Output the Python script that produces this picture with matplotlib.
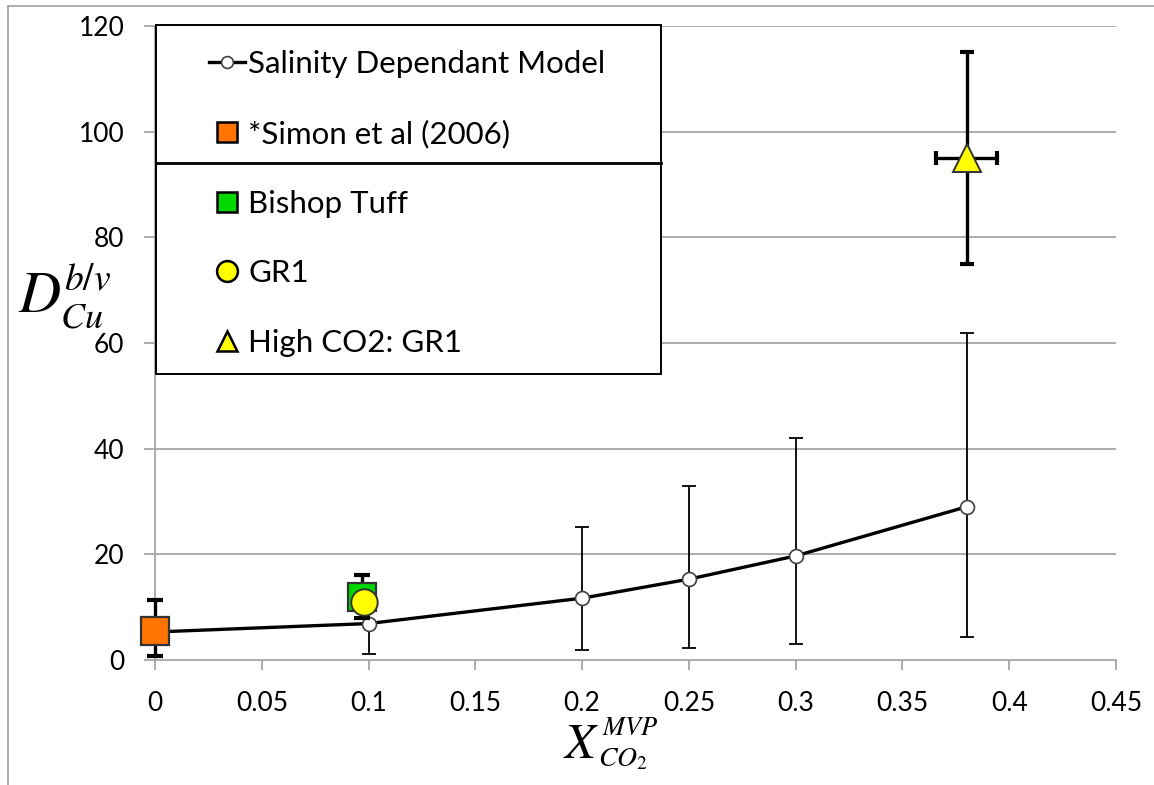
import matplotlib
matplotlib.use("Agg")
import matplotlib.pyplot as plt
from matplotlib.lines import Line2D
from matplotlib.patches import Rectangle

# ---------------- data ----------------
model_x = [0.0, 0.1, 0.2, 0.25, 0.3, 0.38]
model_y = [5.3, 6.9, 11.7, 15.3, 19.7, 29.0]
model_err_lo = [4.5, 5.8, 9.8, 13.0, 16.7, 24.7]
model_err_hi = [6.0, 7.0, 13.5, 17.6, 22.3, 32.8]

simon_x = [0.0]
simon_y = [5.4]
simon_err_lo = [4.6]
simon_err_hi = [6.0]

bishop_x = [0.097]
bishop_y = [12.0]
bishop_err = [4.1]

gr1_x = [0.098]
gr1_y = [11.0]

high_x = [0.38]
high_y = [95.0]
high_yerr = [20.0]
high_xerr = [0.0143]

labels = ["Salinity Dependant Model", "*Simon et al (2006)", "Bishop Tuff",
          "GR1", "High CO2: GR1"]
xticks = [0, 0.05, 0.1, 0.15, 0.2, 0.25, 0.3, 0.35, 0.4, 0.45]
xticklabels = ["0", "0.05", "0.1", "0.15", "0.2", "0.25", "0.3", "0.35", "0.4", "0.45"]
yticks = [0, 20, 40, 60, 80, 100, 120]

# ---------------- figure ----------------
plt.rcParams['font.family'] = ['Lato', 'DejaVu Sans']
plt.rcParams['mathtext.fontset'] = 'stix'

W, H = 1154, 785
fig = plt.figure(figsize=(W / 100, H / 100), dpi=100)
ax = fig.add_axes([155 / W, 1 - 660 / H, (1116 - 155) / W, (660 - 26) / H])

ax.set_xlim(0, 0.45)
ax.set_ylim(0, 120)

grid_c = '#A6A6A6'
for yv in yticks[1:]:
    ax.axhline(yv, color=grid_c, lw=1.3, zorder=0)

for s in ['top', 'right']:
    ax.spines[s].set_visible(False)
for s in ['left', 'bottom']:
    ax.spines[s].set_color(grid_c)
    ax.spines[s].set_linewidth(1.3)

ax.set_xticks(xticks)
ax.set_xticklabels(xticklabels)
ax.set_yticks(yticks)
ax.tick_params(axis='x', direction='out', length=7, width=1.3, color=grid_c,
               labelsize=19, pad=15)
ax.tick_params(axis='y', direction='out', length=8, width=1.3, color=grid_c,
               labelsize=19, pad=14)


def unclip(container):
    for art in container.get_children():
        art.set_clip_on(False)


# model series
m_err = [model_err_lo, model_err_hi]
unclip(ax.errorbar(model_x, model_y, yerr=m_err, fmt='none', ecolor='black',
                   elinewidth=1.3, capsize=5, capthick=1.3, zorder=2))
ax.plot(model_x, model_y, color='black', lw=2.4, zorder=3)
ax.plot(model_x, model_y, ls='none', marker='o', ms=10, mfc='white',
        mec='#404040', mew=1.2, zorder=3.5, clip_on=False)

# Simon et al
unclip(ax.errorbar(simon_x, simon_y, yerr=[simon_err_lo, simon_err_hi], fmt='none',
                   ecolor='black', elinewidth=2.4, capsize=6, capthick=3, zorder=4))
ax.plot(simon_x, simon_y, ls='none', marker='s', ms=20, mfc='#FF7500',
        mec='#333333', mew=1.6, zorder=5, clip_on=False)

# Bishop Tuff
ax.errorbar(bishop_x, bishop_y, yerr=bishop_err, fmt='none', ecolor='black',
            elinewidth=2.4, capsize=6, capthick=3, zorder=4)
ax.plot(bishop_x, bishop_y, ls='none', marker='s', ms=20, mfc='#00D800',
        mec='#333333', mew=1.6, zorder=5)

# GR1
ax.plot(gr1_x, gr1_y, ls='none', marker='o', ms=19, mfc='#FFFF00',
        mec='#333333', mew=1.4, zorder=5.5)

# High CO2 GR1
ax.errorbar(high_x, high_y, yerr=high_yerr, xerr=high_xerr, fmt='none',
            ecolor='black', elinewidth=2.4, capsize=5, capthick=3, zorder=4)
ax.plot(high_x, high_y, ls='none', marker='^', ms=20, mfc='#FFFF00',
        mec='#333333', mew=1.4, zorder=5)


# axis labels (pieces placed by baseline in pixel coords)
def ftext(x, y, s, size):
    fig.text(x / W, 1 - y / H, s, fontsize=size, ha='left', va='baseline')


ftext(18, 312, r'$D$', 42)
ftext(64, 290, r'$b/v$', 27)
ftext(60, 327, r'$Cu$', 26)

ftext(563, 758, r'$X$', 36)
ftext(602, 735, r'$MVP$', 19)
ftext(598, 766, r'$CO_2$', 20)

# legend frame (manual) + separator line
fx0 = (156 - 155) / 961
fx1 = (661 - 155) / 961
fy0 = (660 - 374) / 634
fy1 = (660 - 25) / 634
ax.add_patch(Rectangle((fx0, fy0), fx1 - fx0, fy1 - fy0, transform=ax.transAxes,
                       facecolor='white', edgecolor='black', lw=1.4,
                       zorder=7, clip_on=False))
sep_y = (660 - 163) / 634
ax.add_line(Line2D([fx0, fx1], [sep_y, sep_y], transform=ax.transAxes,
                   color='black', lw=2.0, zorder=8, clip_on=False))

handles = [
    Line2D([], [], color='black', lw=2.4, marker='o', ms=8.5, mfc='white',
           mec='#404040', mew=1.2),
    Line2D([], [], ls='none', marker='s', ms=15, mfc='#FF7500', mec='black', mew=1.8),
    Line2D([], [], ls='none', marker='s', ms=15, mfc='#00D800', mec='black', mew=1.8),
    Line2D([], [], ls='none', marker='o', ms=15, mfc='#FFFF00', mec='black', mew=1.8),
    Line2D([], [], ls='none', marker='^', ms=15, mfc='#FFFF00', mec='black', mew=1.8),
]
leg = ax.legend(handles, labels, loc='upper left',
                bbox_to_anchor=((209 - 155) / 961, (660 - 50) / 634),
                frameon=False, fontsize=22.5, handlelength=1.15,
                handletextpad=0.1, labelspacing=1.33, borderpad=0,
                borderaxespad=0)
leg.set_zorder(9)

# figure border lines (left/top)
fig.add_artist(Line2D([8 / W, 8 / W], [0, 1 - 6 / H], color='#A0A0A0', lw=1.2))
fig.add_artist(Line2D([8 / W, 1], [1 - 6 / H, 1 - 6 / H], color='#A0A0A0', lw=1.2))

fig.savefig('out.png', dpi=100)
